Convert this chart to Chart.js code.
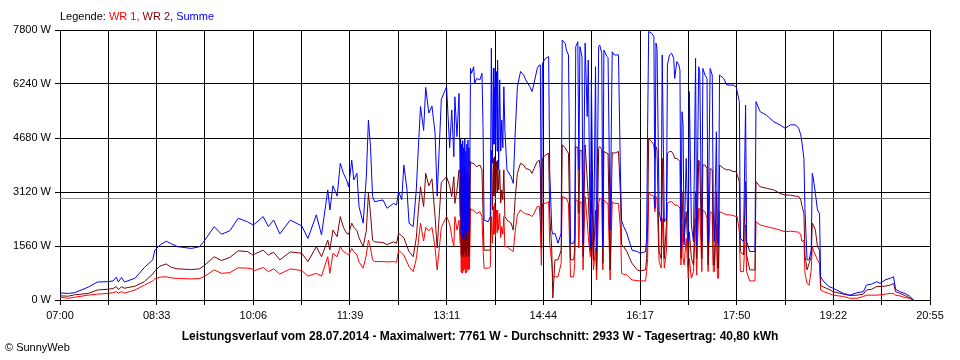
<!DOCTYPE html>
<html>
<head>
<meta charset="utf-8">
<title>Leistungsverlauf</title>
<script src="https://cdn.jsdelivr.net/npm/chart.js@4.4.1/dist/chart.umd.min.js"></script>
<style>
  html, body { margin: 0; padding: 0; background: #fff; }
  #wrap { position: relative; width: 960px; height: 360px; }
</style>
</head>
<body>
<div id="wrap"><canvas id="powerChart"></canvas></div>
<script>
// time in minutes since midnight, power in W
const times = [
  420,428,434,447,456,466,471,474,476,479, 482,492,501,509,511,516,522,527,533,546, 554,559,568,575,583,591,600,605,
  607,615,620,625,631,641,652,658,666,671, 677,679,682,686,689,692,695,697,700,702, 705,707,711,714,716,718,720,722,730,734,
  740,743,745,748,750,753,755,759,762,764, 766,769,771,774,777,780,782,786,791,794,
  796,798,799,801,803,
  804,804.5,805,805.5,806,806.5,807,807.5,808,808.5,809,809.5,810,810.5,811,811.5,812,812.5,813,
  814,815,817,818,820,823,825,826,827,831,833,
  834,835,836,836.5,837,838,839,839.5,840,841,842,843,844,845,846,847,849,
  853,855,857,859,862,865, 867,871,873,875,878,880,881,882,883,886, 889,890,892,893,895,898,901,902,905,906,
  908,910,913,914,915,917,918,919,921,922, 924,926,927,929,930,932,934,935,937,938, 940,941,942,945,946,948,950,952,956,958,
  959,961,964,969,974,
  977,982,983,984,985,988,990,991,992,993, 995,997,998,1000,1002,1003,1005,1007,1009,1010,
  1012,1014,1015,1016,1017,1018,1019,1021,1023,1024, 1026,1028,1030,1031,1033,1034,1036,1037,1039,1041,
  1042,1044,1046,1047,1048,1050,1051,1052,1053,1057, 1060,1063,1066,1069,1070,1072,1073,1076,1078,1079,
  1082,1087,1088,1092,1098,1105,1111,1116,1121,1126, 1129,1131,1132,
  1134,1135,1137,1139,1141,1142,1143,1145,1147,1149, 1150,1153,1158,1162,1172,1178,1185,1191,1194,1199,
  1204,1207,1212,1217,1220,1222,1226,1231,1236,1239
];

const wr1 = [
  80,50,80,140,170,190,210,240,200,240, 200,290,430,550,610,660,670,640,620,610, 620,690,870,770,790,930,920,890,
  850,940,820,900,750,900,850,690,770,690, 1250,770,1350,1250,1540,1400,1350,1300,1490,1400, 1300,1100,920,1300,1730,1500,1160,1110,1110,1100,
  1110,1090,1440,1350,1300,1100,960,820,1200,1700, 2220,1700,2100,2000,2100,1500,870,2100,2410,2200,
  1830,1540,2410,2020,2310,
  1640,2600,800,2500,780,2650,850,2400,900,2690,780,2300,800,2500,900,2450,870,2300,900,
  2650,2600,2600,2550,2500,2550,2410,1500,920,920,960,
  2410,1640,2700,1900,2790,1830,2600,1950,2600,2020,2500,1800,2120,1900,2410,1540,1540,
  1440,1400,2020,2460,2600,2520, 2490,2460,2410,2500,2700,2700,2260,1000,2790,2790, 2840,1640,1060,670,670,670,1060,2990,2950,2940,
  2790,670,670,1060,2890,2880,1500,2840,2800,870, 2990,2300,1830,1250,2500,870,1500,580,2790,2940, 2900,870,2890,2790,2790,580,2840,2790,2790,2020,
  770,740,720,580,560,
  550,550,820,1200,3080,3030,2990,2550,2990,2940, 1110,920,2360,920,1400,2790,2840,2840,2790,2740,
  2740,2700,2650,1010,2170,1200,1010,1780,630,1200, 630,820,2360,720,2650,2650,820,2600,2550,2360,
  820,2550,2500,820,820,2170,630,630,2550,2500, 2460,2460,2440,2410,2410,1970,820,820,2170,820,
  550,550,2260,2170,2120,2070,2020,1970,1990,1970, 1960,1880,1690,
  1730,770,480,430,870,1540,1440,1300,1160,1060, 290,240,190,140,100,50,50,100,140,140,
  140,150,170,190,190,140,120,70,50,0
];

const wr2 = [
  120,110,150,190,290,310,330,390,300,380, 340,400,530,750,840,980,1040,940,900,880, 900,1010,1250,1140,1230,1420,1400,1300,
  1330,1440,1300,1380,1160,1390,1350,1110,1540,1250, 1730,1450,2020,1830,2410,2100,1930,1900,2220,2100, 2000,1800,1540,2000,3080,2500,1730,1680,1660,1600,
  1680,1640,1930,1850,1800,1550,1400,1250,1800,2600, 3270,2700,3660,3300,3500,2400,1500,3400,3560,3300,
  2990,3560,2790,3180,3760,
  2410,3850,1300,3700,1240,3800,1300,3600,1400,3850,1250,3500,1300,3700,1500,3600,1250,3500,1400,
  4000,3950,3950,3900,3850,3900,3760,2500,1440,1440,1440,
  4330,2600,4100,3000,4140,2990,4000,3100,4040,3180,3760,2800,3180,2900,3760,2410,2310,
  2220,2020,2990,3660,3950,3900, 3800,3760,3660,3800,4000,4040,3760,1500,4090,4190, 4240,2500,1440,60,1160,1160,1440,4480,4400,4330,
  4240,1160,1160,1440,4430,4400,2500,4330,4300,1250, 4480,3500,2990,1440,3950,1160,2600,870,4380,4430, 4350,1060,4290,4240,4230,870,4260,4240,4290,2990,
  1600,1540,1400,1060,870,
  840,870,1200,2170,4670,4570,4480,4090,4430,4330, 1400,1200,4090,1200,2170,4240,4290,4290,4190,4090,
  4090,4040,4000,1200,3130,1970,1690,2550,1200,1970, 1200,1010,3130,1200,4040,4000,1200,3900,3900,3800,
  1010,3800,3760,1010,1010,3130,920,920,3900,3800, 3760,3760,3710,3710,3610,3420,1400,1300,3420,1300,
  870,870,3420,3270,3230,3180,3080,3030,3030,3000, 2990,2890,2740,
  2500,1300,870,1060,1250,2220,2170,2020,1540,1440, 430,370,310,240,170,130,140,170,290,310,
  390,390,400,430,480,240,190,130,50,0
];

const summe = [
  200,190,210,370,520,530,550,660,520,650, 520,630,940,1160,1440,1590,1700,1620,1540,1490, 1540,1730,2120,1900,2000,2360,2260,2170,
  2200,2410,2120,2310,1910,2310,2140,1780,2460,1880, 3180,2600,3300,3000,3950,3660,3470,3270,4040,3470, 3660,2700,2220,3560,5200,4430,2990,2840,2890,2650,
  2790,2750,3130,2900,3900,3200,2220,2120,3200,4430, 5590,4900,6140,5400,5600,4820,3000,5800,6160,4400,
  5490,4140,5870,4720,5970,
  3660,4650,1900,4500,1800,4600,1750,4400,2000,4650,1733,4300,1900,4500,2100,4620,2020,4400,2200,
  6690,6550,6740,6260,6400,6360,6550,5010,2310,2260,2410,
  7270,3950,6700,4500,6160,4430,6600,4300,6930,3760,6360,4300,5200,4400,6160,4910,3760,
  3560,3370,4910,6160,6600,6500, 6360,6160,6020,6260,6690,6790,6790,2020,6840,6980, 7030,3760,2020,1900,1930,1640,1930,7510,7400,7220,
  7080,1640,1640,1780,7320,7460,3760,7320,7030,1640, 7420,5300,6930,1540,6360,1250,6740,1440,7320,7370, 7130,1540,7220,7030,7000,2020,7170,7080,7080,3470,
  2300,2120,1930,1440,1400,
  1350,1400,1780,5060,7761,7700,7610,2650,7420,7270, 2550,2260,7080,2260,2360,6790,7080,7130,6980,6400,
  6890,6790,6640,1490,5440,5060,1590,4090,1690,6020, 2170,1690,6980,1590,6740,6600,1690,6690,6500,6400,
  1690,6690,6500,2550,1690,4860,1690,1590,6500,6400, 6210,6210,6210,6160,6020,5730,1780,1690,5630,1690,
  1400,1400,5730,5440,5340,5150,5060,4960,5060,5060, 4960,4770,4570,
  4090,2600,1160,1160,1440,3660,3520,3080,2600,2500, 670,530,390,340,190,140,210,240,430,460,
  530,480,580,630,670,310,240,190,100,0
];

const timeLabels = ['07:00', '08:33', '10:06', '11:39', '13:11', '14:44', '16:17', '17:50', '19:22', '20:55'];
const dayStart = 420;   // 07:00
const dayEnd = 1255;    // 20:55
const yMax = 7800;
const yStep = 1560;
const avgW = 2933;

const legendParts = [
  { text: 'Legende: ', color: '#000000' },
  { text: 'WR 1, ', color: '#ff0000' },
  { text: 'WR 2, ', color: '#800000' },
  { text: 'Summe', color: '#0000ff' }
];
const titleText = 'Leistungsverlauf vom 28.07.2014 - Maximalwert: 7761 W - Durchschnitt: 2933 W - Tagesertrag: 40,80 kWh';
const footText = '\u00A9 SunnyWeb';

const FONT = '"Liberation Sans", Arial, sans-serif';
Chart.defaults.font.family = FONT;
Chart.defaults.font.size = 11;
Chart.defaults.color = '#000';

const toPoints = arr => times.map((t, i) => ({ x: t, y: arr[i] }));

const textPlugin = {
  id: 'sunnyText',
  afterDraw(chart) {
    const ctx = chart.ctx;
    const area = chart.chartArea;
    ctx.save();
    ctx.textBaseline = 'middle';
    ctx.font = '11px ' + FONT;
    let x = area.left;
    legendParts.forEach(p => {
      ctx.fillStyle = p.color;
      ctx.fillText(p.text, x, 17);
      x += ctx.measureText(p.text).width;
    });
    ctx.fillStyle = '#000';
    ctx.font = 'bold 12px ' + FONT;
    ctx.textAlign = 'center';
    ctx.fillText(titleText, chart.width / 2, 337);
    ctx.font = '11px ' + FONT;
    ctx.textAlign = 'left';
    ctx.fillText(footText, 5, 348);
    ctx.restore();
  }
};

const lineDs = (label, arr, color) => ({
  label, data: toPoints(arr), borderColor: color, backgroundColor: color,
  borderWidth: 1, pointRadius: 0, tension: 0, fill: false
});

// first dataset is drawn on top: Summe over WR 2 over WR 1
new Chart(document.getElementById('powerChart'), {
  type: 'line',
  data: {
    datasets: [
      lineDs('Summe', summe, '#0000ff'),
      lineDs('WR 2', wr2, '#800000'),
      lineDs('WR 1', wr1, '#ff0000'),
      { label: 'Durchschnitt', data: [{ x: dayStart, y: avgW }, { x: dayEnd, y: avgW }],
        borderColor: '#909090', borderWidth: 1, pointRadius: 0 }
    ]
  },
  options: {
    responsive: true, maintainAspectRatio: false, animation: false,
    layout: { padding: { top: 30, right: 30, bottom: 36, left: 0 } },
    plugins: { legend: { display: false }, tooltip: { enabled: false } },
    scales: {
      x: {
        type: 'linear', min: dayStart, max: dayEnd,
        afterBuildTicks: s => {
          s.ticks = Array.from({ length: 19 }, (_, i) => ({ value: dayStart + i * (dayEnd - dayStart) / 18 }));
        },
        afterFit: s => { s.height = 24; },
        ticks: {
          autoSkip: false, maxRotation: 0, padding: 4,
          callback: (v, i) => (i % 2 ? '' : timeLabels[i / 2])
        },
        grid: { color: '#000', lineWidth: 1, tickLength: 5 },
        border: { color: '#000' }
      },
      y: {
        min: 0, max: yMax,
        afterFit: s => { s.width = 60; },
        ticks: { stepSize: yStep, padding: 4, callback: v => v + ' W' },
        grid: { color: '#000', lineWidth: 1, tickLength: 5 },
        border: { color: '#000' }
      }
    }
  },
  plugins: [textPlugin]
});
</script>
</body>
</html>
